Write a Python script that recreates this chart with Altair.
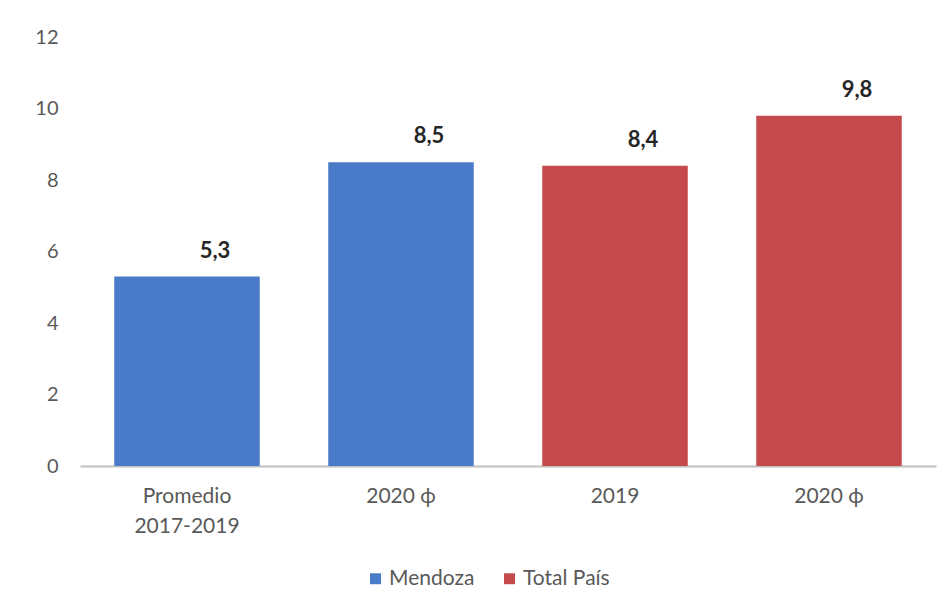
import altair as alt
import pandas as pd

categories = ["Promedio 2017-2019", "2020 ϕ (Mendoza)", "2019", "2020 ϕ (Total País)"]
series = ["Mendoza", "Mendoza", "Total País", "Total País"]
values = [5.3, 8.5, 8.4, 9.8]
y_ticks = [0, 2, 4, 6, 8, 10, 12]

df = pd.DataFrame({
    "cat": categories,
    "serie": series,
    "valor": values,
    "etiqueta": [f"{v:.1f}".replace(".", ",") for v in values],
})

FONT = "Lato"
label_expr = (
    "datum.value == 'Promedio 2017-2019' ? ['Promedio', '2017-2019'] : "
    "(indexof(datum.value, '2020') == 0 ? '2020 ϕ' : datum.value)"
)

x = alt.X("cat:N", sort=categories, scale=alt.Scale(paddingInner=0.32, paddingOuter=0.16),
          axis=alt.Axis(title=None, labelExpr=label_expr, labelAngle=0, ticks=False,
                        labelPadding=19, labelFontSize=21, labelColor="#595959",
                        labelFont=FONT, labelLineHeight=30, domainColor="#c0c0c0",
                        domainWidth=2))
y = alt.Y("valor:Q", scale=alt.Scale(domain=[0, 12]),
          axis=alt.Axis(title=None, values=y_ticks, grid=False, domain=False, ticks=False,
                        labelPadding=22, labelFontSize=20, labelColor="#595959",
                        labelFont=FONT))

bars = alt.Chart(df).mark_bar().encode(
    x=x, y=y,
    color=alt.Color("serie:N", sort=["Mendoza", "Total País"],
                    scale=alt.Scale(domain=["Mendoza", "Total País"],
                                    range=["#4a7bc8", "#c44a4b"]),
                    legend=alt.Legend(title=None, orient="none", direction="horizontal",
                                      legendX=285, legendY=531, symbolType="square",
                                      symbolSize=120, labelFontSize=21, labelFont=FONT,
                                      labelColor="#595959", columnPadding=24,
                                      labelOffset=3, symbolOpacity=1)),
)

labels = alt.Chart(df).mark_text(dy=-26, dx=28, fontSize=22, fontWeight="bold",
                                 font=FONT, color="#262626").encode(
    x=alt.X("cat:N", sort=categories), y="valor:Q", text="etiqueta:N")

chart = (bars + labels).properties(
    width=856, height=429,
    autosize=alt.AutoSizeParams(type="none"),
    padding={"left": 72, "top": 29, "right": 7, "bottom": 140},
    background="white",
).configure_view(stroke=None, strokeWidth=0)

chart.save("out.html", embed_options={"renderer": "svg", "actions": False})
